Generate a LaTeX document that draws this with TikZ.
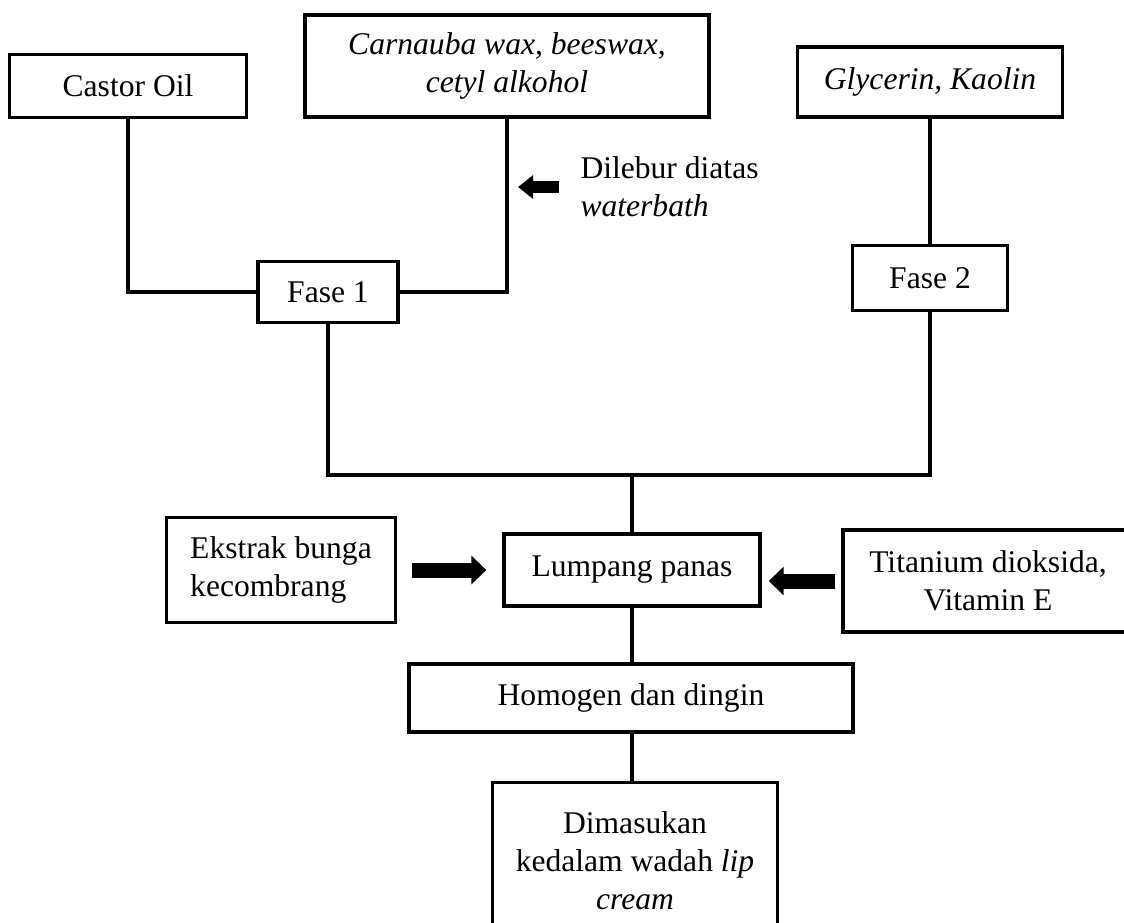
\documentclass[tikz,border=0pt]{standalone}
\usepackage{fontspec}
\setmainfont{Liberation Serif}
\usetikzlibrary{arrows.meta}

\begin{document}
\begin{tikzpicture}[x=0.38pt,y=-0.38pt,
  kotak/.style={draw,line width=1.2pt,align=center,inner sep=0pt,font=\fontsize{12}{14.5}\selectfont},
  garis/.style={line width=1.2pt},
  panah/.style={line width=5.7pt,-{Triangle[width=10.6pt,length=5.7pt]}}]
\useasboundingbox (0,0) rectangle (1124,922);
\node[kotak,minimum width=90pt,minimum height=24pt] (castor) at (128,86) {Castor Oil};
\node[kotak,minimum width=153.5pt,minimum height=38.8pt] (wax) at (507,66) {\textit{Carnauba wax, beeswax,}\\\textit{cetyl alkohol}};
\node[kotak,minimum width=100.7pt,minimum height=26.6pt] (glycerin) at (930,82) {\textit{Glycerin, Kaolin}};
\node[kotak,minimum width=53.2pt,minimum height=23.2pt] (fase1) at (328,292) {Fase 1};
\node[kotak,minimum width=58.9pt,minimum height=24.7pt] (fase2) at (930,278) {Fase 2};
\node[align=left,inner sep=0pt,anchor=west,font=\fontsize{12}{14.5}\selectfont] (lebur) at (580,187) {Dilebur diatas\\\textit{waterbath}};
\coordinate (gabung) at (632,475);
\node[kotak,minimum width=97.3pt,minimum height=27.4pt] (lumpang) at (632,570) {Lumpang panas};
\node[kotak,align=left,minimum width=87pt,minimum height=39.9pt] (ekstrak) at (281,570) {Ekstrak bunga\\kecombrang};
\node[kotak,minimum width=110.2pt,minimum height=38.8pt] (titan) at (988,581) {Titanium dioksida,\\Vitamin E};
\node[kotak,minimum width=168.7pt,minimum height=25.8pt] (homogen) at (631,698) {Homogen dan dingin};
\node[kotak,minimum width=108.3pt,minimum height=59.7pt] (wadah) at (635,861) {Dimasukan\\kedalam wadah \textit{lip}\\\textit{cream}};

\draw[garis] (castor.south) |- (fase1.west);
\draw[garis] (wax.south) |- (fase1.east);
\draw[garis] (glycerin.south) -- (fase2.north);
\draw[garis] (fase1.south) |- (gabung) -| (fase2.south);
\draw[garis] (gabung) -- (lumpang.north);
\draw[garis] (lumpang.south) -- (lumpang.south |- homogen.north);
\draw[garis] (lumpang.south |- homogen.south) -- (lumpang.south |- wadah.north);

\draw[line width=4.2pt,-{Triangle[width=8.7pt,length=5.7pt]},shorten <=8pt,shorten >=4.2pt] (lebur.west) -- (lebur.west -| wax.south);
\draw[panah,shorten <=5.7pt,shorten >=6.1pt] (ekstrak.east) -- (ekstrak.east -| lumpang.west);
\draw[panah,shorten <=2.3pt,shorten >=2.7pt] (titan.west) -- (titan.west -| lumpang.east);
\end{tikzpicture}
\end{document}
